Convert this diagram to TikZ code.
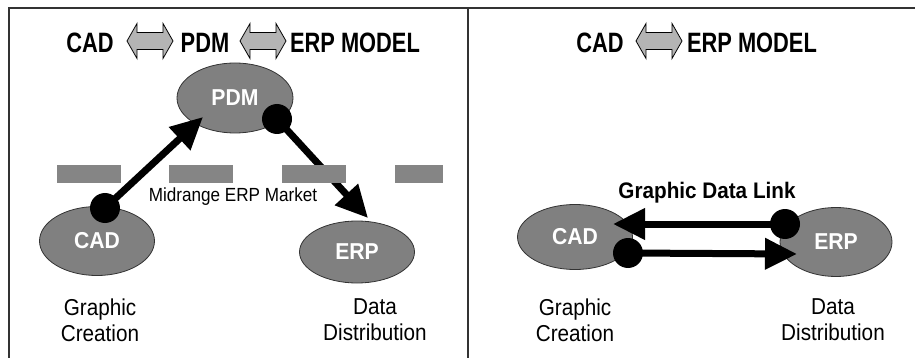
\documentclass[tikz,border=0pt]{standalone}
\usepackage{fontspec}
\setmainfont{Liberation Sans}
\newfontfamily\titlefont[FakeStretch=0.78]{Liberation Sans}
\newfontfamily\lblfont[FakeStretch=0.92]{Liberation Sans}
\newfontfamily\txtfont[FakeStretch=0.9]{Liberation Sans}
\usetikzlibrary{shapes.geometric,arrows.meta}
\definecolor{ellgray}{HTML}{808080}
\definecolor{bargray}{HTML}{858585}
\definecolor{arrgray}{HTML}{B4B4B4}
\tikzset{
  dblarrow/.pic={\draw[fill=arrgray, draw=black, line width=0.8pt]
    (-23,0) -- (-13,-17.5) -- (-13,-8.5) -- (13,-8.5) -- (13,-17.5) -- (23,0)
    -- (13,17.5) -- (13,8.5) -- (-13,8.5) -- (-13,17.5) -- cycle;},
  oval/.style={ellipse, draw=black!80, line width=0.8pt, fill=ellgray, text=white,
    font=\lblfont\bfseries\fontsize{23}{26}\selectfont, inner sep=0pt},
  dot/.style={circle, fill=black, minimum size=30pt, inner sep=0pt},
  conn/.style={line width=7pt, -{Triangle[length=32pt,width=30pt]}},
  bar/.style={fill=bargray, draw=none, minimum width=64pt, minimum height=18pt, inner sep=0pt},
  title/.style={font=\titlefont\bfseries\fontsize{28}{30}\selectfont, inner sep=0pt},
  caption/.style={font=\txtfont\fontsize{23}{26}\selectfont, align=center, inner sep=0pt},
  small/.style={font=\txtfont\fontsize{19}{22}\selectfont, inner sep=0pt},
  linklbl/.style={font=\lblfont\bfseries\fontsize{22.5}{25}\selectfont, inner sep=0pt},
  frame/.style={draw=black!80, line width=2.5pt}
}
\begin{document}
\begin{tikzpicture}[x=1pt,y=-1pt]
\useasboundingbox (0,0) rectangle (915,358);
% frame
\draw[frame] (9,358) -- (9,8) -- (915,8);
\draw[frame] (468,8) -- (468,358);

% ---------- left panel ----------
\node[title] (tcad1) at (90,43) {CAD};
\pic (a1) at (150,41) {dblarrow};
\node[title] (tpdm) at (205,43) {PDM};
\pic (a2) at (263,41) {dblarrow};
\node[title] (terp1) at (355,43) {ERP MODEL};

\node[oval, minimum width=116pt, minimum height=70pt] (pdm) at (235,98) {PDM};
\node[oval, minimum width=115pt, minimum height=69pt] (cadl) at (97,241) {CAD};
\node[oval, minimum width=115pt, minimum height=62pt] (erpl) at (357,252) {ERP};

\coordinate (t1) at (203,117);
\coordinate (t2) at (368,218);
\node[dot] (d1) at (105,208) {};
\node[dot] (d2) at (277,119) {};
\draw[conn] (d1.center) -- (t1);
\draw[conn] (d2.center) -- (t2);

\node[bar] (b1) at (89,174) {};
\node[bar] (b2) at (201,174) {};
\node[bar] (b3) at (314,174) {};
\node[bar, minimum width=48pt] (b4) at (419,174) {};

\node[small] (mkt) at (233,197) {Midrange ERP Market};
\node[caption] (gcl) at (100,320) {Graphic\\Creation};
\node[caption] (ddl) at (375,320) {Data\\Distribution};

% ---------- right panel ----------
\node[title] (tcad2) at (600,43) {CAD};
\pic (a3) at (659,41) {dblarrow};
\node[title] (terp2) at (752,43) {ERP MODEL};

\node[oval, minimum width=115pt, minimum height=65pt] (cadr) at (575,237) {CAD};
\node[oval, minimum width=112pt, minimum height=69pt] (erpr) at (836,242) {ERP};

\coordinate (t3) at (613,224);
\coordinate (t4) at (797,254);
\node[dot] (d3) at (785,224) {};
\node[dot] (d4) at (628,253) {};
\draw[conn] (d3.center) -- (t3);
\draw[conn] (d4.center) -- (t4);

\node[linklbl] (gdl) at (707,193) {Graphic Data Link};
\node[caption] (gcr) at (575,320) {Graphic\\Creation};
\node[caption] (ddr) at (833,320) {Data\\Distribution};
\end{tikzpicture}
\end{document}
